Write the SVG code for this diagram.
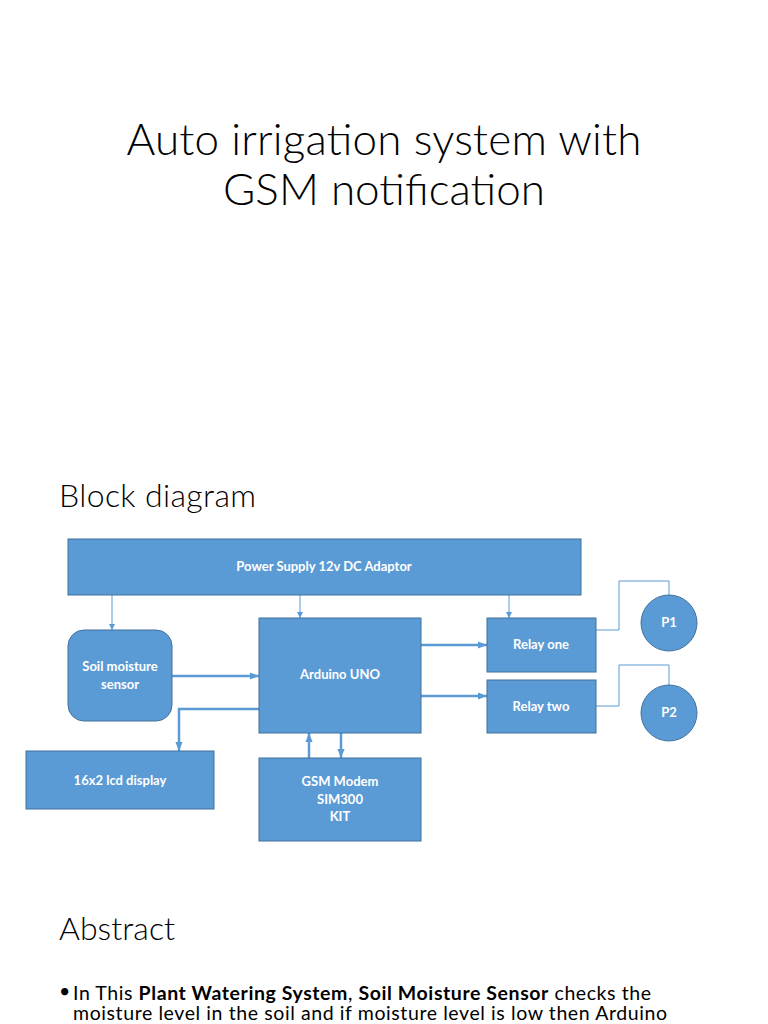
<svg xmlns="http://www.w3.org/2000/svg" width="768" height="1024" viewBox="0 0 768 1024">
<style>
.box{fill:#5B9BD5;stroke:#41719C;stroke-width:1}
.lbl{fill:#fff;font-family:Lato,"Open Sans",sans-serif;font-size:13px;font-weight:bold;text-anchor:middle}
.thin{stroke:#5B9BD5;stroke-width:1;fill:none}
.thick{stroke:#5B9BD5;stroke-width:2.5;fill:none}
.h{font-family:Lato,"Noto Sans",sans-serif;font-weight:300;fill:#000}
.body{font-family:Lato,"Noto Sans",sans-serif;font-size:19.5px;fill:#000}
</style>
<defs>
<marker id="as" viewBox="0 0 10 10" refX="10" refY="5" markerWidth="6" markerHeight="6" orient="auto" markerUnits="userSpaceOnUse"><path d="M0,0 L10,5 L0,10 z" fill="#5B9BD5"/></marker>
<marker id="al" viewBox="0 0 10 10" refX="10" refY="5" markerWidth="9" markerHeight="9" orient="auto" markerUnits="userSpaceOnUse"><path d="M0,1 L10,5 L0,9 z" fill="#5B9BD5"/></marker>
</defs>
<rect width="768" height="1024" fill="#fff"/>
<text class="h" x="384" y="155" font-size="44" text-anchor="middle" textLength="515">Auto irrigation system with</text>
<text class="h" x="384" y="205" font-size="44" text-anchor="middle" textLength="322">GSM notification</text>
<text class="h" x="59" y="507" font-size="32" textLength="197">Block diagram</text>
<text class="h" x="59" y="940" font-size="32" textLength="116">Abstract</text>
<text class="body" x="59" y="998" font-size="14">•</text>
<text class="body" x="73" y="1000" textLength="578">In This <tspan font-weight="bold">Plant Watering System</tspan>, <tspan font-weight="bold">Soil Moisture Sensor</tspan> checks the</text>
<text class="body" x="73" y="1020" textLength="594">moisture level in the soil and if moisture level is low then Arduino</text>
<g id="connectors">
<line class="thin" x1="112" y1="595" x2="112" y2="630" marker-end="url(#as)"/>
<line class="thin" x1="300" y1="595" x2="300" y2="618" marker-end="url(#as)"/>
<line class="thin" x1="509" y1="595" x2="509" y2="618" marker-end="url(#as)"/>
<line class="thick" x1="172" y1="676" x2="259" y2="676" marker-end="url(#al)"/>
<line class="thick" x1="421" y1="645" x2="487" y2="645" marker-end="url(#al)"/>
<line class="thick" x1="421" y1="696" x2="487" y2="696" marker-end="url(#al)"/>
<polyline class="thick" points="259,709 179,709 179,751" marker-end="url(#al)"/>
<line class="thick" x1="309" y1="758" x2="309" y2="733" marker-end="url(#al)"/>
<line class="thick" x1="341" y1="733" x2="341" y2="758" marker-end="url(#al)"/>
<polyline class="thin" points="596,630 619,630 619,581 669,581 669,595"/>
<polyline class="thin" points="596,706 619,706 619,665 669,665 669,685"/>
</g>
<g id="power"><rect class="box" x="68" y="539" width="513" height="56"/><text class="lbl" x="324" y="571">Power Supply 12v DC Adaptor</text></g>
<g id="soil"><rect class="box" x="68" y="630" width="104" height="91" rx="16"/><text class="lbl" x="120" y="671">Soil moisture</text><text class="lbl" x="120" y="689">sensor</text></g>
<g id="arduino"><rect class="box" x="259" y="618" width="162" height="115"/><text class="lbl" x="340" y="679">Arduino UNO</text></g>
<g id="relay1"><rect class="box" x="487" y="618" width="109" height="54"/><text class="lbl" x="541" y="649">Relay one</text></g>
<g id="relay2"><rect class="box" x="487" y="680" width="109" height="53"/><text class="lbl" x="541" y="711">Relay two</text></g>
<g id="p1"><circle class="box" cx="669" cy="623" r="28"/><text class="lbl" x="669" y="627">P1</text></g>
<g id="p2"><circle class="box" cx="669" cy="713" r="28"/><text class="lbl" x="669" y="717">P2</text></g>
<g id="lcd"><rect class="box" x="26" y="751" width="188" height="58"/><text class="lbl" x="120" y="785">16x2 lcd display</text></g>
<g id="gsm"><rect class="box" x="259" y="758" width="162" height="83"/><text class="lbl" x="340" y="786">GSM Modem</text><text class="lbl" x="340" y="804">SIM300</text><text class="lbl" x="340" y="821">KIT</text></g>
</svg>
